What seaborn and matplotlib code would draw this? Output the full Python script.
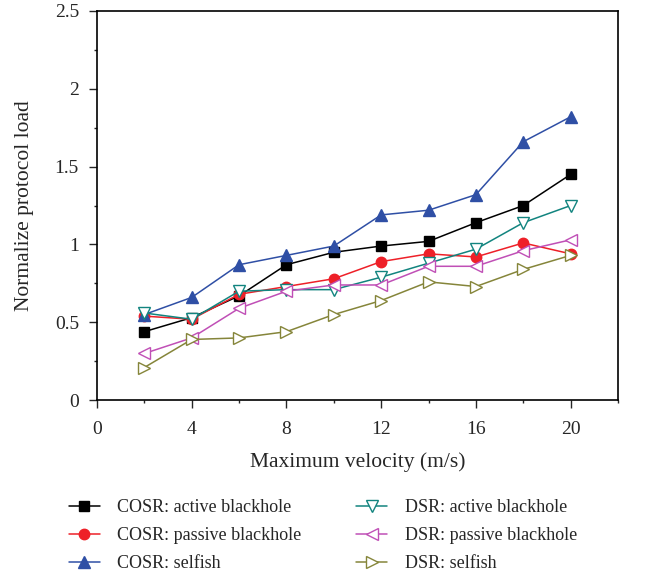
import matplotlib
matplotlib.use("Agg")
import matplotlib.pyplot as plt
from matplotlib.ticker import MultipleLocator
import seaborn as sns

velocity = [2, 4, 6, 8, 10, 12, 14, 16, 18, 20]

cosr_active = [0.44, 0.53, 0.67, 0.87, 0.95, 0.99, 1.02, 1.14, 1.25, 1.45]
cosr_passive = [0.54, 0.52, 0.68, 0.73, 0.78, 0.89, 0.94, 0.92, 1.01, 0.94]
cosr_selfish = [0.55, 0.66, 0.87, 0.93, 0.99, 1.19, 1.22, 1.32, 1.66, 1.82]
dsr_active = [0.56, 0.52, 0.70, 0.71, 0.71, 0.79, 0.88, 0.97, 1.14, 1.25]
dsr_passive = [0.30, 0.40, 0.59, 0.70, 0.74, 0.74, 0.86, 0.86, 0.96, 1.03]
dsr_selfish = [0.21, 0.39, 0.40, 0.44, 0.55, 0.64, 0.76, 0.73, 0.84, 0.93]

labels = ["COSR: active blackhole", "COSR: passive blackhole", "COSR: selfish",
          "DSR: active blackhole", "DSR: passive blackhole", "DSR: selfish"]
series = [cosr_active, cosr_passive, cosr_selfish, dsr_active, dsr_passive, dsr_selfish]
colors = ["#000000", "#ee2028", "#2f4fa5", "#12847f", "#c04fb6", "#85853a"]
markers = ["s", "o", "^", "v", "<", ">"]
filled = [True, True, True, False, False, False]
msizes = [6.5, 7.5, 8.5, 8.5, 8.5, 8.5]

sns.set_style("ticks")
plt.rcParams["font.family"] = ["Liberation Serif", "DejaVu Serif"]

fig = plt.figure(figsize=(6.55, 5.75), dpi=100)
ax = fig.add_axes([0.148, 0.304, 0.7955, 0.677])

for vals, lab, col, mk, fl, ms in zip(series, labels, colors, markers, filled, msizes):
    sns.lineplot(x=velocity, y=vals, ax=ax, label=lab, color=col, marker=mk,
                 markersize=ms, markeredgecolor=col,
                 markerfacecolor=col if fl else "white",
                 markeredgewidth=1.0, linewidth=1.1)

ax.set_xlim(0, 22)
ax.set_ylim(0, 2.5)
ax.xaxis.set_major_locator(MultipleLocator(4))
ax.xaxis.set_minor_locator(MultipleLocator(2))
ax.yaxis.set_major_locator(MultipleLocator(0.5))
ax.yaxis.set_minor_locator(MultipleLocator(0.25))
ax.set_yticks([0, 0.5, 1, 1.5, 2, 2.5])
ax.set_yticklabels(["0", "0.5", "1", "1.5", "2", "2.5"])
ax.tick_params(which="major", direction="out", length=6, width=1, labelsize=14)
ax.tick_params(axis="x", which="major", pad=9)
ax.tick_params(axis="y", which="major", pad=7)
ax.tick_params(which="minor", direction="out", length=2.5, width=1)
for sp in ax.spines.values():
    sp.set_visible(True)
    sp.set_linewidth(1.2)
    sp.set_color("black")

ax.set_xlabel("Maximum velocity (m/s)", fontsize=15.5, labelpad=10)
ax.set_ylabel("Normalize protocol load", fontsize=15.5, labelpad=15)

handles, labs = ax.get_legend_handles_labels()
ax.get_legend().remove()
fig.legend(handles, labs, loc="upper left", bbox_to_anchor=(0.08, 0.16),
           ncol=2, frameon=False, fontsize=13, handlelength=1.75,
           columnspacing=3.0, labelspacing=0.6, handletextpad=0.95)

fig.savefig("out.png", dpi=100)
